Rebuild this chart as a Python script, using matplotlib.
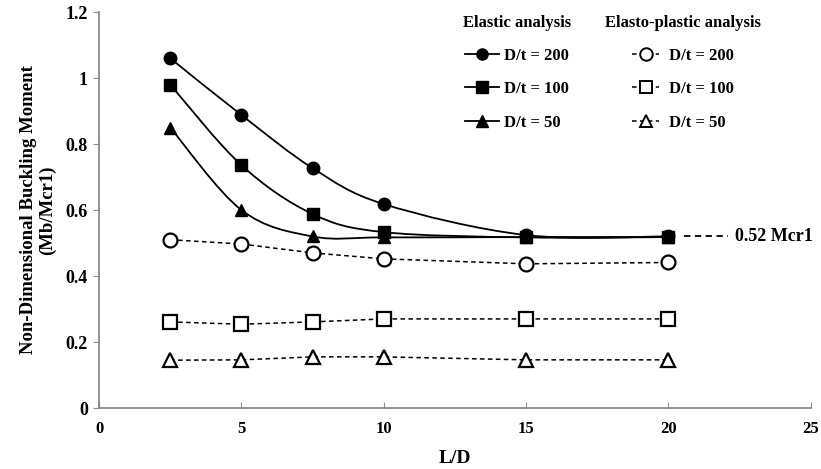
import numpy as np
import matplotlib.pyplot as plt
from matplotlib.path import Path
from matplotlib.patches import PathPatch
from matplotlib.lines import Line2D

plt.rcParams['font.family'] = ['Liberation Serif', 'DejaVu Serif']
plt.rcParams['font.weight'] = 'bold'

# L/D values
ld = [2.5, 5, 7.5, 10, 15, 20]

# elastic analysis (solid, filled markers)
el_200 = [1.06, 0.888, 0.727, 0.618, 0.524, 0.52]
el_100 = [0.98, 0.736, 0.588, 0.533, 0.517, 0.518]
el_50 = [0.85, 0.60, 0.520, 0.517, 0.518, 0.518]

# elasto-plastic analysis (dashed, open markers)
ep_200 = [0.51, 0.497, 0.47, 0.452, 0.437, 0.441]
ep_100 = [0.261, 0.254, 0.261, 0.27, 0.27, 0.27]
ep_50 = [0.145, 0.146, 0.155, 0.155, 0.146, 0.146]

series_labels = ['D/t = 200', 'D/t = 100', 'D/t = 50']
markers = ['o', 's', '^']

mcr_level = 0.52
mcr_text = '0.52 Mcr1'


def smooth_path(x, y):
    # Excel-style smoothed line: cubic bezier through the points
    x = np.asarray(x, float)
    y = np.asarray(y, float)
    pts = np.column_stack([x, y])
    n = len(pts)
    verts = [pts[0]]
    codes = [Path.MOVETO]
    for i in range(n - 1):
        p0 = pts[i - 1] if i > 0 else pts[i]
        p1 = pts[i]
        p2 = pts[i + 1]
        p3 = pts[i + 2] if i + 2 < n else pts[i + 1]
        c1 = p1 + (p2 - p0) / 6.0
        c2 = p2 - (p3 - p1) / 6.0
        verts += [c1, c2, p2]
        codes += [Path.CURVE4] * 3
    return Path(verts, codes)


fig = plt.figure(figsize=(8.21, 4.69), dpi=100)
ax = fig.add_axes([0.1206, 0.130, 0.867, 0.8444])

# elastic curves
for vals, m in zip([el_200, el_100, el_50], markers):
    ax.add_patch(PathPatch(smooth_path(ld, vals), fill=False, lw=1.3,
                           edgecolor='black', zorder=2))
    ax.plot(ld, vals, ls='none', marker=m, ms=9, color='black', zorder=3)

# elasto-plastic curves
for vals, m in zip([ep_200, ep_100, ep_50], markers):
    ax.plot(ld, vals, ls=(0, (3, 2.2)), lw=1.1, color='black', marker=m,
            ms=10, mfc='white', mec='black', mew=1.6, zorder=3)

# reference level line
ax.plot([ld[-1] + 0.55, 22.1], [mcr_level, mcr_level], ls=(0, (3.5, 2.5)),
        lw=1.3, color='black')
ax.text(22.35, mcr_level, mcr_text, fontsize=13, fontweight='bold',
        va='center', ha='left')

ax.set_xlim(0, 25)
ax.set_ylim(0, 1.2)
ax.set_xticks([0, 5, 10, 15, 20, 25])
ax.set_yticks([0, 0.2, 0.4, 0.6, 0.8, 1.0, 1.2])
ax.set_yticklabels(['0', '0.2', '0.4', '0.6', '0.8', '1', '1.2'])
ax.set_xticklabels(['0', '5', '10', '15', '20', '25'])
for s in ['top', 'right']:
    ax.spines[s].set_visible(False)
for s in ['left', 'bottom']:
    ax.spines[s].set_color('#808080')
    ax.spines[s].set_linewidth(1.2)
ax.tick_params(axis='x', direction='in', length=4, color='#909090',
               labelsize=12, pad=9)
ax.tick_params(axis='y', direction='out', length=4, color='#909090',
               labelsize=13, pad=4)

ax.set_xlabel('L/D', fontsize=14, fontweight='bold', labelpad=10)
ax.set_ylabel('Non-Dimensional Buckling Moment\n(Mb/Mcr1)', fontsize=13.5,
              fontweight='bold', labelpad=7, linespacing=1.1)

# legends
el_handles = [Line2D([], [], color='black', lw=1.3, marker=m, ms=8)
              for m in markers]
ep_handles = [Line2D([], [], color='black', lw=1.1, ls=(0, (3, 2.2)),
                     marker=m, ms=9, mfc='white', mec='black', mew=1.4)
              for m in markers]
leg1 = ax.legend(el_handles, series_labels, title='Elastic analysis',
                 loc='upper left', bbox_to_anchor=(0.49, 1.03), frameon=False,
                 fontsize=12, title_fontproperties={'weight': 'bold', 'size': 12},
                 handlelength=2.0, handletextpad=0.3, labelspacing=1.05)
ax.add_artist(leg1)
leg2 = ax.legend(ep_handles, series_labels, title='Elasto-plastic analysis',
                 loc='upper left', bbox_to_anchor=(0.69, 1.03), frameon=False,
                 fontsize=12, title_fontproperties={'weight': 'bold', 'size': 12},
                 handlelength=1.6, handletextpad=0.6, labelspacing=1.05)
leg1._legend_box.sep = 12
leg2._legend_box.sep = 12
for t in leg1.get_texts() + leg2.get_texts():
    t.set_fontweight('bold')

fig.savefig('out.png', dpi=100)
